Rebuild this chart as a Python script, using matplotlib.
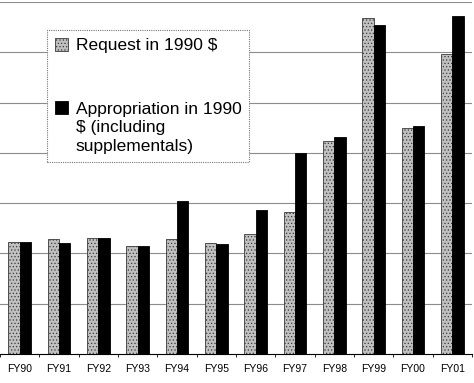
import numpy as np
import matplotlib
matplotlib.use('Agg')
import matplotlib.pyplot as plt
from matplotlib.patches import Rectangle
from matplotlib.legend_handler import HandlerPatch

plt.rcParams['font.family'] = ['Liberation Sans', 'DejaVu Sans']
plt.rcParams['hatch.linewidth'] = 0.5

# fiscal years on the x axis
years = ['FY90', 'FY91', 'FY92', 'FY93', 'FY94', 'FY95',
         'FY96', 'FY97', 'FY98', 'FY99', 'FY00', 'FY01']
# values in gridline units (axis labels are not visible in the original)
request = [2.23, 2.28, 2.31, 2.14, 2.29, 2.20, 2.38, 2.83, 4.23, 6.69, 4.50, 5.96]
appropriation = [2.23, 2.20, 2.31, 2.14, 3.05, 2.18, 2.86, 3.99, 4.32, 6.55, 4.53, 6.72]

labels = ['Request in 1990 $',
          'Appropriation in 1990\n$ (including\nsupplementals)']
LEG_FS = 12.5
LINESP = 1.3


def raised_square(legend, orig_handle, xdescent, ydescent, width, height, fontsize):
    # put the square next to the first line of a multi-line label
    shift = 0
    if orig_handle.get_facecolor()[0] < 0.1:
        n = len(labels[1].split('\n'))
        shift = 0.5 * (n - 1) * LINESP * fontsize - 1.5
    return Rectangle((-xdescent, -ydescent + shift), width, height)


fig = plt.figure(figsize=(4.74, 3.83), dpi=100)
ax = fig.add_axes([0.0, 29 / 383, 472 / 474, 352 / 383])

x = np.arange(len(years))
w = 0.29
b1 = ax.bar(x - w / 2, request, w, facecolor='#c0c0c0', edgecolor='#3a3a3a',
            hatch='.....', linewidth=0.6, zorder=3)
b2 = ax.bar(x + w / 2, appropriation, w, facecolor='black', edgecolor='black',
            linewidth=0.6, zorder=3)

ax.set_xlim(-0.47, 11.5)
ax.set_ylim(0, 7)
ax.set_yticks(np.arange(1, 8))
ax.yaxis.grid(True, color='#8c8c8c', linewidth=0.8)
ax.set_axisbelow(True)
ax.tick_params(axis='y', left=False, labelleft=False)
ax.set_xticks(x)
ax.set_xticklabels(years, fontsize=7.5)
ax.set_xticks(np.arange(-0.5, 12, 1), minor=True)
ax.tick_params(axis='x', which='major', length=0, pad=7)
ax.tick_params(axis='x', which='minor', length=2.5, width=0.6, direction='out')
for s in ['left', 'right', 'top']:
    ax.spines[s].set_visible(False)
ax.spines['bottom'].set_linewidth(0.8)

leg = ax.legend([b1[0], b2[0]], labels, loc='upper left',
                bbox_to_anchor=(47 / 474, 1 - 30 / 383),
                bbox_transform=fig.transFigure, fontsize=LEG_FS,
                handlelength=0.75, handleheight=0.75, handletextpad=0.45,
                labelspacing=2.8, borderpad=0.45, borderaxespad=0,
                fancybox=False, framealpha=1, edgecolor='#777777',
                handler_map={Rectangle: HandlerPatch(patch_func=raised_square)})
for t in leg.get_texts():
    t.set_linespacing(LINESP)
leg.get_frame().set_linestyle((0, (1, 1)))
leg.get_frame().set_linewidth(0.8)

fig.savefig('out.png', dpi=100)
